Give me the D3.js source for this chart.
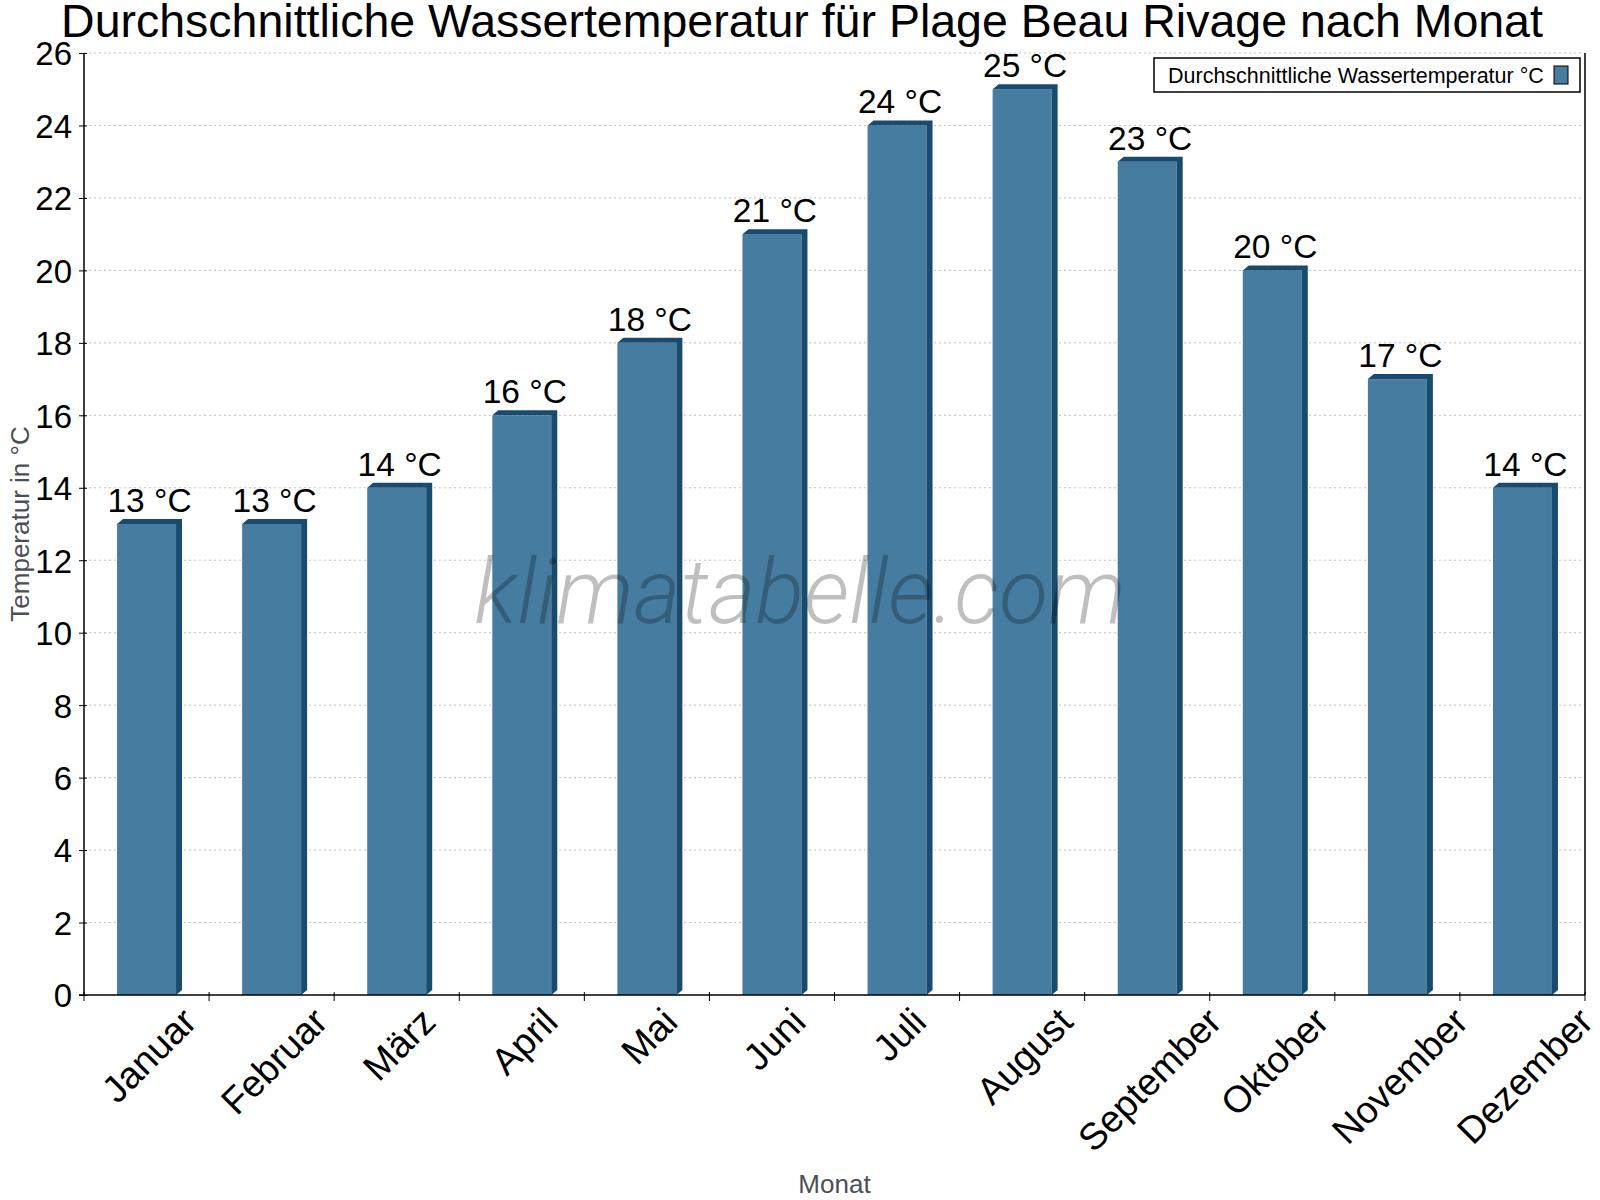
<!DOCTYPE html>
<html>
<head>
<meta charset="utf-8">
<script src="https://cdn.jsdelivr.net/npm/d3@7"></script>
<style>
  body { margin: 0; background: #fff; }
  text { font-family: "Liberation Sans", Arial, sans-serif; }
</style>
</head>
<body>
<script>
// Daten
var monate = ["Januar", "Februar", "März", "April", "Mai", "Juni", "Juli",
              "August", "September", "Oktober", "November", "Dezember"];
var temperaturen = [13, 13, 14, 16, 18, 21, 24, 25, 23, 20, 17, 14];
var yTicks = [0, 2, 4, 6, 8, 10, 12, 14, 16, 18, 20, 22, 24, 26];
var titel = "Durchschnittliche Wassertemperatur für Plage Beau Rivage nach Monat";
var legendeText = "Durchschnittliche Wassertemperatur °C";

var w = 1600, h = 1200;
var pLeft = 84, pRight = 1585, pTop = 53, pBottom = 995;
var front = "#467c9f", dunkel = "#184b6d";
var depthX = 6, depthY = 5, barW = 59;

var svg = d3.select("body").append("svg")
    .attr("width", w)
    .attr("height", h);

var xScale = d3.scaleBand().domain(monate).range([pLeft, pRight]).padding(0);
var yScale = d3.scaleLinear().domain([0, 26]).range([pBottom, pTop]);

// gitterlinien
svg.append("g").selectAll("line")
    .data(yTicks.filter(function(d) { return d > 0; }))
    .enter().append("line")
    .attr("x1", pLeft).attr("x2", pRight)
    .attr("y1", function(d) { return yScale(d); })
    .attr("y2", function(d) { return yScale(d); })
    .attr("stroke", "#c0c0c0")
    .attr("stroke-width", 1)
    .attr("stroke-dasharray", "2,3");

// balken (3D)
var bars = svg.append("g").selectAll("g")
    .data(temperaturen)
    .enter().append("g");

function bx(i) { return xScale(monate[i]) + xScale.bandwidth() / 2 - barW / 2; }

bars.append("rect")
    .attr("x", function(d, i) { return bx(i); })
    .attr("y", function(d) { return yScale(d); })
    .attr("width", barW)
    .attr("height", function(d) { return pBottom - yScale(d); })
    .attr("fill", front);

bars.append("path")
    .attr("fill", dunkel)
    .attr("d", function(d, i) {
        var x0 = bx(i), x1 = x0 + barW, y0 = yScale(d);
        return "M" + x0 + "," + y0 + "L" + (x0 + depthX) + "," + (y0 - depthY) +
               "L" + (x1 + depthX) + "," + (y0 - depthY) + "L" + (x1 + depthX) + "," + (pBottom - depthY) +
               "L" + x1 + "," + pBottom + "L" + x1 + "," + y0 + "Z";
    });

// wasserzeichen (ueber den balken)
svg.append("text")
    .attr("x", 800).attr("y", 623)
    .attr("text-anchor", "middle")
    .style("font-family", "Roboto, sans-serif")
    .style("font-weight", 300)
    .style("font-style", "italic")
    .style("font-size", "90px")
    .attr("fill", "rgba(0,0,0,0.25)")
    .text("klimatabelle.com");

// werte ueber den balken
svg.append("g").selectAll("text")
    .data(temperaturen)
    .enter().append("text")
    .attr("x", function(d, i) { return xScale(monate[i]) + xScale.bandwidth() / 2 + 3; })
    .attr("y", function(d) { return yScale(d) - 12; })
    .attr("text-anchor", "middle")
    .style("font-size", "33.5px")
    .attr("fill", "#000")
    .text(function(d) { return d + " °C"; });

// y achse
var yAxis = d3.axisLeft(yScale).tickValues(yTicks).tickSize(0).tickPadding(12);
var gy = svg.append("g")
    .attr("transform", "translate(" + pLeft + ",0)")
    .call(yAxis);
gy.select(".domain").remove();
gy.selectAll("text").style("font-size", "33px").attr("fill", "#000")
    .style("font-family", "'Liberation Sans', Arial, sans-serif")
    .attr("dy", "0.36em");
gy.selectAll(".tick").append("line")
    .attr("x1", -5).attr("x2", 3).attr("stroke", "#000");

svg.append("line")
    .attr("x1", pLeft).attr("x2", pLeft).attr("y1", pTop).attr("y2", pBottom)
    .attr("stroke", "#000").attr("stroke-width", 1.5);
svg.append("line")
    .attr("x1", pRight).attr("x2", pRight).attr("y1", pTop).attr("y2", pBottom)
    .attr("stroke", "#000").attr("stroke-width", 1.5);

// x achse
svg.append("line")
    .attr("x1", pLeft - 5).attr("x2", pRight).attr("y1", pBottom).attr("y2", pBottom)
    .attr("stroke", "#000").attr("stroke-width", 1.5);
svg.append("g").selectAll("line")
    .data(monate.concat(["_ende"]))
    .enter().append("line")
    .attr("x1", function(d, i) { return pLeft + i * xScale.bandwidth(); })
    .attr("x2", function(d, i) { return pLeft + i * xScale.bandwidth(); })
    .attr("y1", pBottom - 3).attr("y2", pBottom + 6)
    .attr("stroke", "#000");

var xFont = 37.5;
var xl = svg.append("g").selectAll("text")
    .data(monate)
    .enter().append("text")
    .attr("text-anchor", "end")
    .style("font-size", xFont + "px")
    .attr("fill", "#000")
    .text(function(d) { return d; });
xl.attr("transform", function(d) {
    var L = this.getComputedTextLength();
    var asc = 0.716 * xFont * 0.707;
    var ax = xScale(d) + xScale.bandwidth() / 2 + 2 + (L * 0.707 + asc) / 2;
    var ay = pBottom + 29;
    return "translate(" + ax + "," + ay + ") rotate(-45)";
});

// achsentitel
svg.append("text")
    .attr("x", (pLeft + pRight) / 2).attr("y", 1193)
    .attr("text-anchor", "middle")
    .style("font-size", "26px")
    .attr("fill", "#4b5057")
    .text("Monat");

svg.append("text")
    .attr("transform", "translate(29," + ((pTop + pBottom) / 2) + ") rotate(-90)")
    .attr("text-anchor", "middle")
    .style("font-size", "26px")
    .attr("fill", "#4b5057")
    .text("Temperatur in °C");

// titel
svg.append("text")
    .attr("x", 802).attr("y", 37)
    .attr("text-anchor", "middle")
    .style("font-size", "46.5px")
    .attr("fill", "#000")
    .text(titel);

// legende
var leg = svg.append("g");
leg.append("rect")
    .attr("x", 1154).attr("y", 58).attr("width", 426).attr("height", 34)
    .attr("fill", "#fff").attr("stroke", "#000").attr("stroke-width", 1.5);
leg.append("text")
    .attr("x", 1168).attr("y", 82.5)
    .style("font-size", "21.5px")
    .attr("fill", "#000")
    .text(legendeText);
leg.append("rect")
    .attr("x", 1554).attr("y", 66).attr("width", 14).attr("height", 18)
    .attr("fill", front).attr("stroke", "#000").attr("stroke-width", 1);
</script>
</body>
</html>
